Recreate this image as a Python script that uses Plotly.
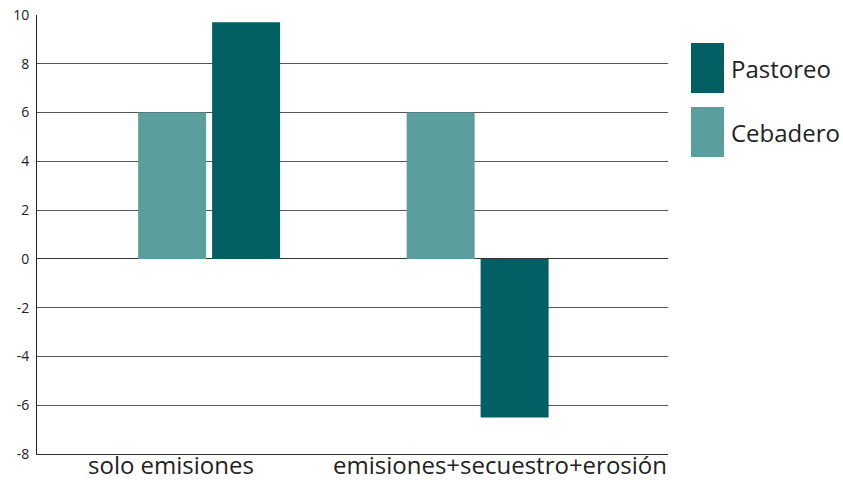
import plotly.graph_objects as go

categories = ["solo emisiones", "emisiones+secuestro+erosión"]
cebadero = [6.0, 6.0]
pastoreo = [9.7, -6.5]
series_names = ["Pastoreo", "Cebadero"]
colors = {"Pastoreo": "#025F63", "Cebadero": "#5A9E9D"}
y_ticks = [-8, -6, -4, -2, 0, 2, 4, 6, 8, 10]
y_ticktext = ["-8", "-6", "-4", "-2", "0", "2", "4", "6", "8", "10"]

fig = go.Figure()
fig.add_trace(go.Bar(x=[0, 1], y=cebadero, name="Cebadero",
                     marker=dict(color=colors["Cebadero"], line=dict(width=0))))
fig.add_trace(go.Bar(x=[0, 1], y=pastoreo, name="Pastoreo",
                     marker=dict(color=colors["Pastoreo"], line=dict(width=0))))

font = "Open Sans"
# category labels
shifts = [-38, 22]
for i, c in enumerate(categories):
    fig.add_annotation(x=i, y=0, xref="x", yref="paper", yanchor="top", xanchor="center",
                       text=c, showarrow=False, xshift=shifts[i], yshift=8,
                       font=dict(family=font, size=24, color="#222"))

# legend drawn manually
leg_y = [(43, 93), (107, 157)]
for name, (y0, y1) in zip(series_names, leg_y):
    fig.add_shape(type="rect", xref="paper", yref="paper",
                  x0=(691 - 37) / 631, x1=(724 - 37) / 631,
                  y0=(454 - y1) / 439, y1=(454 - y0) / 439,
                  fillcolor=colors[name], line=dict(width=0))
    fig.add_annotation(xref="paper", yref="paper", x=(729 - 37) / 631, y=(454 - (y0 + y1) / 2) / 439,
                       xanchor="left", yanchor="middle", text=name, showarrow=False,
                       font=dict(family=font, size=24, color="#222"))

fig.update_layout(
    width=843, height=480,
    margin=dict(l=37, r=175, t=15, b=26, autoexpand=False),
    plot_bgcolor="white", paper_bgcolor="white",
    barmode="group", bargap=0.449, bargroupgap=0.081,
    showlegend=False,
    xaxis=dict(range=[-0.641, 1.709], showticklabels=False, showgrid=False, zeroline=False,
               showline=True, linecolor="#333", linewidth=1, ticks="", automargin=False),
    yaxis=dict(range=[-8, 10], tickvals=y_ticks, ticktext=y_ticktext, showgrid=True,
               gridcolor="#555", gridwidth=1, zeroline=True, zerolinecolor="#333", zerolinewidth=1,
               showline=True, linecolor="#222", linewidth=1, ticks="", automargin=False,
               tickfont=dict(family=font, size=14, color="#222"), ticklabelstandoff=4),
    font=dict(family=font),
)

fig.write_html("out.html")
